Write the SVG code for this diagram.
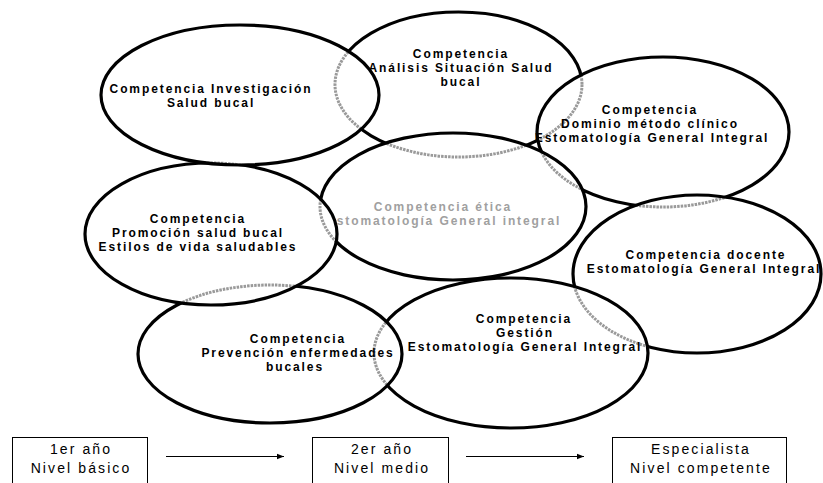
<svg xmlns="http://www.w3.org/2000/svg" xmlns:xlink="http://www.w3.org/1999/xlink" width="823" height="483" viewBox="0 0 823 483">
<style>
.fill{fill:#fff;stroke:none}
.ln{fill:none;stroke:#000;stroke-width:3.2}
.hid{fill:none;stroke:#9a9a9a;stroke-width:3;stroke-dasharray:2.5 1}
.t{font-family:"Liberation Sans",Arial,sans-serif;font-weight:bold;font-size:12px;letter-spacing:1.9px;text-anchor:middle;fill:#000}
.g{fill:#a0a0a0}
.b{font-family:"Liberation Sans",Arial,sans-serif;font-size:14px;letter-spacing:2.1px;text-anchor:middle;fill:#000}
.box{fill:#fff;stroke:#000;stroke-width:1}
.arr{stroke:#000;stroke-width:1;fill:none}
</style>
<defs>
<ellipse id="e1" cx="240" cy="95" rx="139" ry="70"/>
<ellipse id="e2" cx="458.5" cy="84.5" rx="123.5" ry="72.5"/>
<ellipse id="e3" cx="663" cy="132" rx="126" ry="75"/>
<ellipse id="e4" cx="453" cy="206.5" rx="133" ry="73.5"/>
<ellipse id="e5" cx="211" cy="234" rx="126" ry="71"/>
<ellipse id="e6" cx="270" cy="354" rx="132" ry="69"/>
<ellipse id="e7" cx="697" cy="274" rx="124" ry="79"/>
<ellipse id="e8" cx="511" cy="353" rx="137" ry="75"/>
<clipPath id="c1"><use xlink:href="#e1"/></clipPath>
<clipPath id="c3"><use xlink:href="#e3"/></clipPath>
<clipPath id="c4"><use xlink:href="#e4"/></clipPath>
<clipPath id="c5"><use xlink:href="#e5"/></clipPath>
<clipPath id="c6"><use xlink:href="#e6"/></clipPath>
<clipPath id="c7"><use xlink:href="#e7"/></clipPath>
<clipPath id="c8"><use xlink:href="#e8"/></clipPath>
<marker id="ah" viewBox="0 0 10 10" refX="10" refY="5" markerWidth="7" markerHeight="7" markerUnits="userSpaceOnUse" orient="auto"><path d="M0,1 L10,5 L0,9 Z" fill="#000"/></marker>
</defs>

<g id="n2">
<use xlink:href="#e2" class="fill"/>
<use xlink:href="#e2" class="ln"/>
<text class="t"><tspan x="461" y="58">Competencia</tspan><tspan x="461" y="72">Análisis Situación Salud</tspan><tspan x="461" y="86">bucal</tspan></text>
</g>

<g id="n3">
<use xlink:href="#e3" class="fill"/>
<g clip-path="url(#c3)"><use xlink:href="#e2" class="hid"/></g>
<use xlink:href="#e3" class="ln"/>
<text class="t"><tspan x="650" y="114">Competencia</tspan><tspan x="650" y="128">Dominio método clínico</tspan><tspan x="652" y="142">Estomatología General Integral</tspan></text>
</g>

<g id="n4">
<use xlink:href="#e4" class="fill"/>
<g clip-path="url(#c4)"><use xlink:href="#e2" class="hid"/><use xlink:href="#e3" class="hid"/></g>
<use xlink:href="#e4" class="ln"/>
<text class="t g"><tspan x="443" y="211">Competencia ética</tspan><tspan x="444" y="225">Estomatología General integral</tspan></text>
</g>

<g id="n7">
<use xlink:href="#e7" class="fill"/>
<g clip-path="url(#c7)"><use xlink:href="#e3" class="hid"/></g>
<use xlink:href="#e7" class="ln"/>
<text class="t"><tspan x="706" y="259">Competencia docente</tspan><tspan x="704" y="273">Estomatología General Integral</tspan></text>
</g>

<g id="n8">
<use xlink:href="#e8" class="fill"/>
<g clip-path="url(#c8)"><use xlink:href="#e7" class="hid"/></g>
<use xlink:href="#e8" class="ln"/>
<text class="t"><tspan x="524" y="323">Competencia</tspan><tspan x="525" y="337">Gestión</tspan><tspan x="525" y="351">Estomatología General Integral</tspan></text>
</g>

<g id="n6">
<use xlink:href="#e6" class="fill"/>
<g clip-path="url(#c6)"><use xlink:href="#e8" class="hid"/></g>
<use xlink:href="#e6" class="ln"/>
<text class="t"><tspan x="298" y="343">Competencia</tspan><tspan x="298" y="357">Prevención enfermedades</tspan><tspan x="295" y="371">bucales</tspan></text>
</g>

<g id="n5">
<use xlink:href="#e5" class="fill"/>
<g clip-path="url(#c5)"><use xlink:href="#e4" class="hid"/><use xlink:href="#e6" class="hid"/></g>
<use xlink:href="#e5" class="ln"/>
<text class="t"><tspan x="198" y="223">Competencia</tspan><tspan x="198" y="237">Promoción salud bucal</tspan><tspan x="198" y="251">Estilos de vida saludables</tspan></text>
</g>

<g id="n1">
<use xlink:href="#e1" class="fill"/>
<g clip-path="url(#c1)"><use xlink:href="#e2" class="hid"/><use xlink:href="#e5" class="hid"/></g>
<use xlink:href="#e1" class="ln"/>
<text class="t"><tspan x="211" y="93">Competencia Investigación</tspan><tspan x="211" y="107">Salud bucal</tspan></text>
</g>

<g id="box1">
<rect class="box" x="12.5" y="437.5" width="135" height="60"/>
<text class="b"><tspan x="81" y="454">1er año</tspan><tspan x="81" y="473">Nivel básico</tspan></text>
</g>
<g id="box2">
<rect class="box" x="312.5" y="437.5" width="136" height="60"/>
<text class="b"><tspan x="382" y="454">2er año</tspan><tspan x="382" y="473">Nivel medio</tspan></text>
</g>
<g id="box3">
<rect class="box" x="612.5" y="437.5" width="174" height="60"/>
<text class="b"><tspan x="701" y="454">Especialista</tspan><tspan x="701" y="473">Nivel competente</tspan></text>
</g>

<g id="connectors">
<line class="arr" x1="166" y1="456.5" x2="284" y2="456.5" marker-end="url(#ah)"/>
<line class="arr" x1="466" y1="456.5" x2="584" y2="456.5" marker-end="url(#ah)"/>
</g>
</svg>
